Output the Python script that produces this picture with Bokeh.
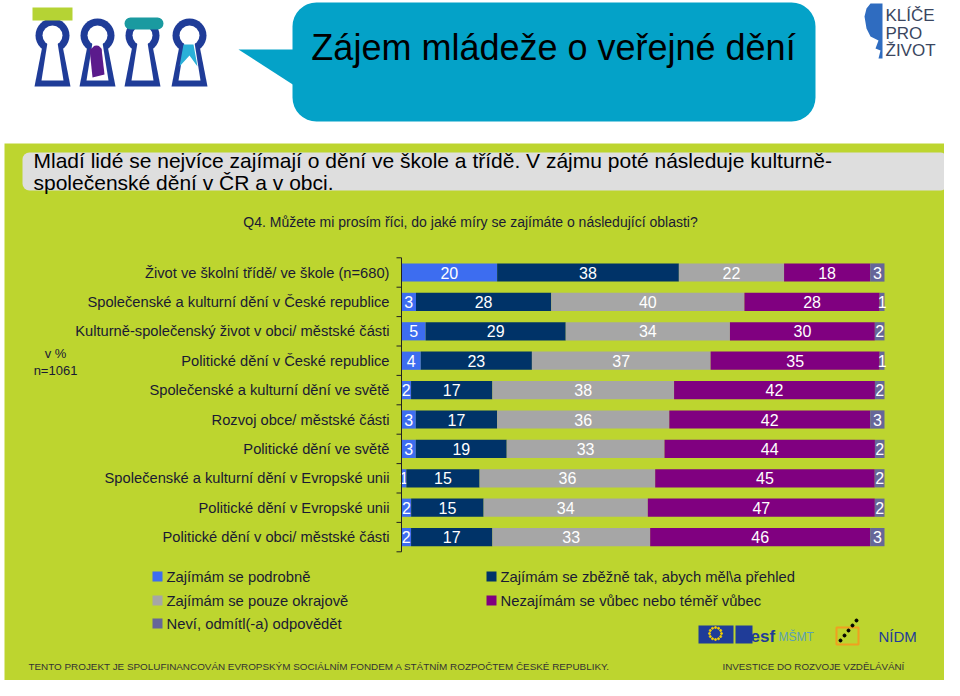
import numpy as np
from bokeh.plotting import figure
from bokeh.models import Range1d, ColumnDataSource
from bokeh.core.properties import value
from bokeh.embed import file_html
from bokeh.resources import INLINE

# ---------------- data ----------------
categories = [
    "Život ve školní třídě/ ve škole (n=680)",
    "Společenské a kulturní dění v České republice",
    "Kulturně-společenský život v obci/ městské části",
    "Politické dění v České republice",
    "Společenské a kulturní dění ve světě",
    "Rozvoj obce/ městské části",
    "Politické dění ve světě",
    "Společenské a kulturní dění v Evropské unii",
    "Politické dění v Evropské unii",
    "Politické dění v obci/ městské části",
]
podrobne = [20, 3, 5, 4, 2, 3, 3, 1, 2, 2]
zbezne = [38, 28, 29, 23, 17, 17, 19, 15, 15, 17]
okrajove = [22, 40, 34, 37, 38, 36, 33, 36, 34, 33]
nezajimam = [18, 28, 30, 35, 42, 42, 44, 45, 47, 46]
nevi = [3, 1, 2, 1, 2, 3, 2, 2, 2, 3]
series_names = [
    "Zajímám se podrobně",
    "Zajímám se zběžně tak, abych měl\\a přehled",
    "Zajímám se pouze okrajově",
    "Nezajímám se vůbec nebo téměř vůbec",
    "Neví, odmítl(-a) odpovědět",
]
series_colors = ["#3d6df0", "#003368", "#a6a6a6", "#800080", "#666699"]
series_values = [podrobne, zbezne, okrajove, nezajimam, nevi]

title = "Zájem mládeže o veřejné dění"
summary_lines = [
    "Mladí lidé se nejvíce zajímají o dění ve škole a třídě. V zájmu poté následuje kulturně-",
    "společenské dění v ČR a v obci.",
]
question = "Q4. Můžete mi prosím říci, do jaké míry se zajímáte o následující oblasti?"
base_note = ["v %", "n=1061"]
footer_left = "TENTO PROJEKT JE SPOLUFINANCOVÁN EVROPSKÝM SOCIÁLNÍM FONDEM A STÁTNÍM ROZPOČTEM ČESKÉ REPUBLIKY."
footer_right = "INVESTICE DO ROZVOJE VZDĚLÁVÁNÍ"

# ---------------- layout constants ----------------
W, H = 944, 680
X0, Y0 = 0, 0
BAR_L, BAR_R = 401, 884       # pixel extent of 0..100 %
ROW0, ROW_H = 272, 29.4       # first row centre, row pitch
FONT = value("Liberation Sans")
DARK = "#1a1a33"
GREEN = "#bdd52f"
TEAL = "#04a2c8"
NAVY = "#1f3c98"

p = figure(width=W, height=H, output_backend="svg", toolbar_location=None,
           x_range=Range1d(X0, X0 + W), y_range=Range1d(Y0 + H, Y0),
           x_axis_type=None, y_axis_type=None, min_border=0)
p.grid.visible = False
p.outline_line_color = None
p.background_fill_color = "white"
p.border_fill_color = "white"

ppx = 100.0 / (BAR_R - BAR_L)
p.extra_x_ranges = {"pct": Range1d(start=(X0 - BAR_L) * ppx, end=(X0 + W - BAR_L) * ppx)}
p.extra_y_ranges = {"cat": Range1d(start=(Y0 + H - ROW0) / ROW_H, end=(Y0 - ROW0) / ROW_H)}

# ---------------- slide decoration ----------------
p.quad(left=4, right=957, top=143, bottom=700, fill_color=GREEN, line_color=None)
p.quad(left=22, right=947, top=152, bottom=190, fill_color="#dedede", line_color=None,
       border_radius=7)
p.text(x=[33, 33], y=[160, 182], text=summary_lines, text_font=FONT, text_font_size="21px",
       text_color="black", text_baseline="middle")
p.text(x=[470], y=[221], text=[question], text_font=FONT, text_font_size="14px",
       text_color=DARK, text_baseline="middle", text_align="center")

# title bubble
p.patch(x=[238, 300, 300], y=[49, 49, 89], fill_color=TEAL, line_color=None)
p.quad(left=292, right=815, top=2, bottom=121, fill_color=TEAL, line_color=None,
       border_radius=24)
p.text(x=[553], y=[47], text=[title], text_font=FONT, text_font_size="36px",
       text_color="black", text_baseline="middle", text_align="center")

# keyhole logos
for cx in [52, 97, 142, 189]:
    p.circle(x=[cx], y=[35], radius=17, fill_color=NAVY, line_color=None)
    p.patch(x=[cx - 10, cx + 10, cx + 18, cx - 18], y=[45, 45, 86, 86], fill_color=NAVY, line_color=None)
    p.patch(x=[cx - 5, cx + 5, cx + 11, cx - 11], y=[42, 42, 80, 80], fill_color="white", line_color=None)
    p.circle(x=[cx], y=[35], radius=10, fill_color="white", line_color=None)
p.quad(left=32, right=72, top=7, bottom=20, fill_color="#b5d334", line_color=None)
p.patch(x=[89, 101, 104, 92], y=[48, 48, 74, 77], fill_color="#5b1b8c", line_color=None)
p.circle(x=[96], y=[50], radius=5, fill_color="#5b1b8c", line_color=None)
p.quad(left=124, right=163, top=17, bottom=29, fill_color="#1a9aa0", line_color=None,
       border_radius=6)
p.patch(x=[183, 193, 197, 189, 179], y=[44, 44, 66, 55, 66], fill_color="#2ab0d8", line_color=None)

# "Klíče pro život" logo
p.patch(x=[870, 882, 882, 878, 880, 875, 878, 870, 866, 864, 866],
        y=[3, 3, 58, 58, 50, 48, 40, 36, 28, 16, 8], fill_color="#2f6cc0", line_color=None)
p.text(x=[885, 885, 885], y=[15, 33, 50], text=["KLÍČE", "PRO", "ŽIVOT"], text_font=FONT,
       text_font_size="17px", text_color="#3a4660", text_baseline="middle")

# bottom logos
p.quad(left=698, right=733, top=625, bottom=643, fill_color=NAVY, line_color=None)
ang = np.linspace(0, 2 * np.pi, 13)[:-1]
p.scatter(x=715 + 6 * np.cos(ang), y=633 + 6 * np.sin(ang), size=2, color="#f5d000")
p.quad(left=735, right=752, top=625, bottom=643, fill_color=NAVY, line_color=None)
p.text(x=[750], y=[636], text=["esf"], text_font=FONT, text_font_size="17px", text_font_style="bold",
       text_color=NAVY, text_baseline="middle")
p.text(x=[778], y=[636], text=["MŠMT"], text_font=FONT, text_font_size="12px",
       text_color="#5aa0b8", text_baseline="middle")
p.patch(x=[836, 858, 858, 836], y=[627, 627, 644, 644], fill_color=None, line_color="#f0a020", line_width=2)
p.scatter(x=[840, 844, 848, 852, 856], y=[640, 635, 630, 625, 620], size=3, color="black")
p.text(x=[878], y=[636], text=["NÍDM"], text_font=FONT, text_font_size="15px",
       text_color=NAVY, text_baseline="middle")
p.text(x=[28], y=[666], text=[footer_left], text_font=FONT, text_font_size="9.9px",
       text_color="#333333", text_baseline="middle")
p.text(x=[722], y=[666], text=[footer_right], text_font=FONT, text_font_size="9.8px",
       text_color="#333333", text_baseline="middle")

# ---------------- chart ----------------
n = len(categories)
yi = np.arange(n)
vals = np.array(series_values, dtype=float)           # series x rows
share = vals / vals.sum(axis=0) * 100.0               # 100 % stacked
cum = np.cumsum(share, axis=0)
for k in range(len(series_values)):
    right = cum[k]
    left = right - share[k]
    src = ColumnDataSource(dict(y=yi, left=left, right=right, mid=(left + right) / 2,
                                lab=[str(v) for v in series_values[k]]))
    p.hbar(y="y", left="left", right="right", height=0.62, source=src,
           fill_color=series_colors[k], line_color=None,
           x_range_name="pct", y_range_name="cat")
    p.text(x="mid", y="y", text="lab", source=src, x_range_name="pct", y_range_name="cat",
           text_align="center", text_baseline="middle", text_color="white",
           text_font=FONT, text_font_size="16px")

# axis line & ticks at category boundaries
bounds = np.arange(n + 1) - 0.5
p.segment(x0=[0], x1=[0], y0=[bounds[0]], y1=[bounds[-1]], x_range_name="pct", y_range_name="cat",
          line_color="#222222", line_width=1)
p.segment(x0=[-5 * ppx] * len(bounds), x1=[0] * len(bounds), y0=bounds, y1=bounds,
          x_range_name="pct", y_range_name="cat", line_color="#222222", line_width=1)

# category labels
p.text(x=[BAR_L - 12] * n, y=yi, text=categories, y_range_name="cat",
       text_align="right", text_baseline="middle", text_color=DARK,
       text_font=FONT, text_font_size="14.7px")
p.text(x=[55, 55], y=[353, 370], text=base_note, text_align="center", text_baseline="middle",
       text_color=DARK, text_font=FONT, text_font_size="13px")

# legend (two columns, row-major)
lx = [157, 491, 157, 491, 157]
ly = [576, 576, 600, 600, 623]
p.scatter(x=lx, y=ly, marker="square", size=10, fill_color=series_colors, line_color=None)
p.text(x=[v + 9 for v in lx], y=ly, text=series_names, text_baseline="middle", text_color=DARK,
       text_font=FONT, text_font_size="14.8px")

open("out.html", "w").write(file_html(p, INLINE))
